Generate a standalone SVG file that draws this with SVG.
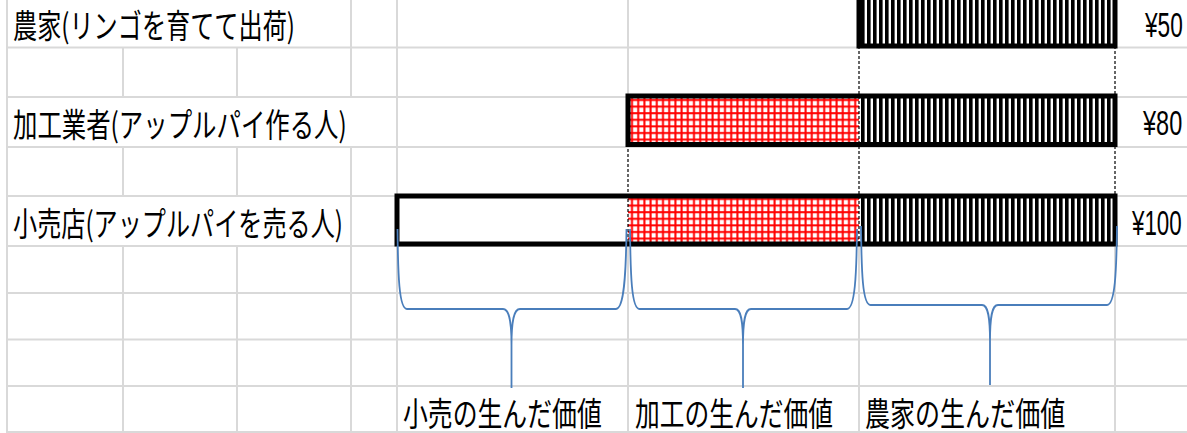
<svg xmlns="http://www.w3.org/2000/svg" width="1187" height="433" viewBox="0 0 1187 433">
<style>
.g{stroke:#d9d9d9;stroke-width:2;fill:none}
.jp{font-family:"Noto Sans CJK JP","Noto Sans CJK SC",sans-serif;font-size:33px;fill:#000}
.pr{font-family:"Liberation Sans",Arial,sans-serif;font-size:35px;fill:#000}
.box{fill:none;stroke:#000;stroke-width:5}
.dash{stroke:#000;stroke-width:1.2;stroke-dasharray:3 2;fill:none}
.brace{fill:none;stroke:#4a7ebb;stroke-width:1.8}
</style>
<defs>
<pattern id="vstripe" patternUnits="userSpaceOnUse" x="859" y="0" width="6" height="10">
<rect width="6" height="10" fill="#fff"/>
<rect x="2" width="3.6" height="10" fill="#000"/>
</pattern>
<pattern id="rgrid" patternUnits="userSpaceOnUse" x="628" y="96" width="6.2" height="6.6">
<rect width="6.2" height="6.6" fill="#fff"/>
<rect x="3" width="2" height="6.6" fill="#ff0000"/>
<rect y="3" width="6.2" height="2" fill="#ff0000"/>
</pattern>
</defs>
<rect width="1187" height="433" fill="#fff"/>
<g id="grid">
<path class="g" d="M7,47.5H1187M7,97H1187M7,147H1187M7,196H1187M7,246H1187M7,293H1187M7,339.5H1187M7,386H1187M7,432H1187"/>
<path class="g" d="M7,0V433M123,47.5V97M123,147V196M123,246V433M237,47.5V97M237,147V196M237,246V433M351,0V97M351,147V433M397,0V433M628,0V97M628,246V433M859,246V433M1115,246V433"/>
</g>
<g id="farmer">
<rect x="859" y="-5" width="256" height="51" fill="url(#vstripe)"/>
<text class="jp" transform="translate(13,37.5) scale(0.75,1)" textLength="376" lengthAdjust="spacingAndGlyphs">農家(リンゴを育てて出荷)</text>
<text class="pr" transform="translate(1145,37) scale(0.7,1)" textLength="54" lengthAdjust="spacingAndGlyphs">¥50</text>
</g>
<g id="processor">
<rect x="628" y="96" width="231" height="48.5" fill="url(#rgrid)"/>
<rect x="859" y="96" width="256" height="48.5" fill="url(#vstripe)"/>
<text class="jp" transform="translate(13,137) scale(0.75,1)" textLength="445" lengthAdjust="spacingAndGlyphs">加工業者(アップルパイ作る人)</text>
<text class="pr" transform="translate(1143,135) scale(0.7,1)" textLength="56" lengthAdjust="spacingAndGlyphs">¥80</text>
</g>
<g id="retail">
<rect x="397" y="196" width="231" height="48" fill="#fff"/>
<rect x="628" y="196" width="231" height="48" fill="url(#rgrid)"/>
<rect x="859" y="196" width="256" height="48" fill="url(#vstripe)"/>
<text class="jp" transform="translate(13,236) scale(0.75,1)" textLength="440" lengthAdjust="spacingAndGlyphs">小売店(アップルパイを売る人)</text>
<text class="pr" transform="translate(1132,235) scale(0.7,1)" textLength="71" lengthAdjust="spacingAndGlyphs">¥100</text>
</g>
<g id="connectors">
<path class="dash" d="M859,46V244M1115,46V196M628,144V244"/>
</g>
<g id="outlines">
<rect class="box" x="859" y="-5" width="256" height="51"/>
<rect class="box" x="628" y="96" width="487" height="48.5"/>
<rect class="box" x="397" y="196" width="718" height="48"/>
</g>
<g id="braces">
<path class="brace" d="M397.5,229 C398,275 399,309 407,309 L503,309 C509,309 511.5,320 511.5,345 C511.5,320 514,309 520,309 L616,309 C624,309 626,275 626.5,229 M511.5,345 L511.5,388"/>
<path class="brace" d="M630,229 C630.5,275 631.5,309 639.5,309 L735,309 C741,309 743,320 743,345 C743,320 745,309 751,309 L847,309 C855,309 856.5,275 857,229 M743,345 L743,388"/>
<path class="brace" d="M861,226 C861.5,272 862.5,305 870.5,305 L982,305 C988,305 990,316 990,341 C990,316 992,305 998,305 L1107,305 C1115,305 1116.5,272 1117,226 M990,341 L990,385"/>
</g>
<g id="labels">
<text class="jp" transform="translate(403,426) scale(0.75,1)" textLength="265" lengthAdjust="spacingAndGlyphs">小売の生んだ価値</text>
<text class="jp" transform="translate(635,426) scale(0.75,1)" textLength="264" lengthAdjust="spacingAndGlyphs">加工の生んだ価値</text>
<text class="jp" transform="translate(865,426) scale(0.75,1)" textLength="267" lengthAdjust="spacingAndGlyphs">農家の生んだ価値</text>
</g>
</svg>
